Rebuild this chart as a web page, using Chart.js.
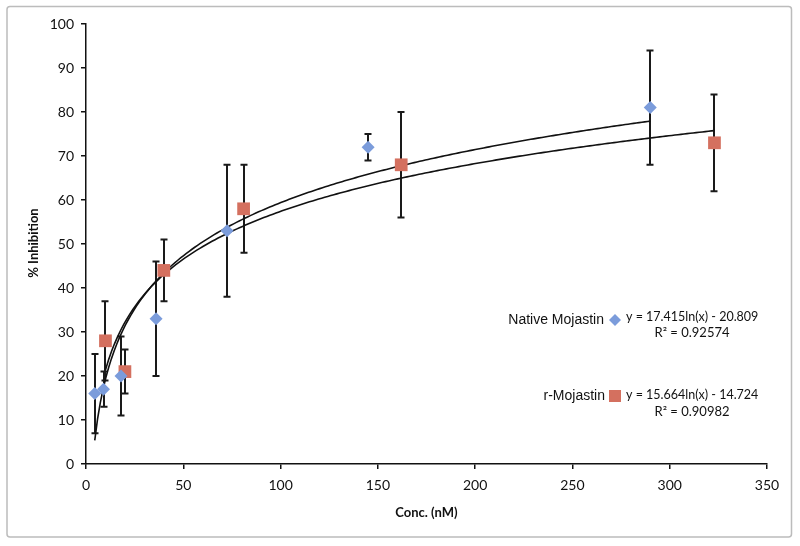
<!DOCTYPE html>
<html>
<head>
<meta charset="utf-8">
<script src="https://cdn.jsdelivr.net/npm/chart.js@4/dist/chart.umd.min.js"></script>
<style>
  html, body { margin: 0; padding: 0; background: #fff; }
  #wrap { width: 800px; height: 546px; position: relative; }
</style>
</head>
<body>
<div id="wrap"><canvas id="c" width="800" height="546"></canvas></div>
<script>
// ---- Data ----
const nativeConc   = [4.5, 9, 18, 36, 72.5, 145, 290];
const nativeInhib  = [16, 17, 20, 33, 53, 72, 81];
const nativeErr    = [9, 4, 9, 13, 15, 3, 13];

const rConc        = [10, 20, 40, 81, 162, 323];
const rInhib       = [28, 21, 44, 58, 68, 73];
const rErr         = [9, 5, 7, 10, 12, 11];

// logarithmic trendline coefficients shown on the chart: y = a*ln(x) + b
const nativeFit    = [17.415, -20.809];
const rFit         = [15.664, -14.724];
const nativeLabel  = "Native Mojastin";
const rLabel       = "r-Mojastin";
const nativeEq     = ["y = 17.415ln(x) - 20.809", "R² = 0.92574"];
const rEq          = ["y = 15.664ln(x) - 14.724", "R² = 0.90982"];

const xTitle = "Conc. (nM)";
const yTitle = "% Inhibition";

const BLUE = "#7b9cdb";
const RED  = "#d4705f";

function toPoints(xs, ys) { return xs.map((x, i) => ({ x: x, y: ys[i] })); }
function fitCurve(coef, xs) {
  const lo = Math.min.apply(null, xs), hi = Math.max.apply(null, xs);
  const pts = [];
  const n = 200;
  for (let i = 0; i <= n; i++) {
    const x = lo + (hi - lo) * i / n;
    pts.push({ x: x, y: coef[0] * Math.log(x) + coef[1] });
  }
  return pts;
}

const errorBarPlugin = {
  id: 'errorBars',
  beforeDatasetsDraw(chart) {
    const ctx = chart.ctx;
    const xs = chart.scales.x, ys = chart.scales.y;
    const sets = [[nativeConc, nativeInhib, nativeErr], [rConc, rInhib, rErr]];
    ctx.save();
    ctx.strokeStyle = "#1a1a1a";
    ctx.lineWidth = 2;
    sets.forEach(s => {
      s[0].forEach((x, i) => {
        const px = Math.round(xs.getPixelForValue(x));
        const top = ys.getPixelForValue(s[1][i] + s[2][i]);
        const bot = ys.getPixelForValue(s[1][i] - s[2][i]);
        ctx.beginPath();
        ctx.moveTo(px, top); ctx.lineTo(px, bot);
        ctx.moveTo(px - 3.5, top); ctx.lineTo(px + 3.5, top);
        ctx.moveTo(px - 3.5, bot); ctx.lineTo(px + 3.5, bot);
        ctx.stroke();
      });
    });
    ctx.restore();
  }
};

const decorPlugin = {
  id: 'decor',
  beforeDraw(chart) {
    const ctx = chart.ctx;
    ctx.save();
    ctx.fillStyle = "#fff";
    ctx.fillRect(0, 0, chart.width, chart.height);
    ctx.strokeStyle = "#bcbcbc";
    ctx.lineWidth = 1.5;
    ctx.beginPath();
    if (ctx.roundRect) ctx.roundRect(7, 6.5, 784.5, 530.5, 3); else ctx.rect(7, 6.5, 784.5, 530.5);
    ctx.stroke();
    ctx.restore();
  },
  afterDraw(chart) {
    const ctx = chart.ctx;
    ctx.save();
    ctx.fillStyle = "#111";
    ctx.font = "bold 13px Lato, 'Open Sans', sans-serif";
    ctx.textAlign = "center";
    ctx.textBaseline = "middle";
    const ca = chart.chartArea;
    ctx.fillText(xTitle, (ca.left + ca.right) / 2, 513);
    ctx.save();
    ctx.translate(34, 243);
    ctx.rotate(-Math.PI / 2);
    ctx.fillText(yTitle, 0, 0);
    ctx.restore();

    ctx.textBaseline = "middle";
    ctx.font = "14px 'Liberation Sans', Arial, sans-serif";
    ctx.textAlign = "right";
    ctx.fillStyle = "#111";
    ctx.fillText(nativeLabel, 604, 320);
    ctx.fillText(rLabel, 605, 396);

    ctx.fillStyle = BLUE;
    ctx.beginPath();
    ctx.moveTo(615, 314); ctx.lineTo(621, 320); ctx.lineTo(615, 326); ctx.lineTo(609, 320);
    ctx.closePath(); ctx.fill();
    ctx.fillStyle = RED;
    ctx.fillRect(609, 390, 12, 12);

    ctx.fillStyle = "#111";
    ctx.font = "12.5px Lato, 'Open Sans', sans-serif";
    ctx.textAlign = "left";
    ctx.fillText(nativeEq[0], 626, 317);
    ctx.fillText(rEq[0], 626, 395);
    ctx.font = "13px Lato, 'Open Sans', sans-serif";
    ctx.textAlign = "center";
    ctx.fillText(nativeEq[1], 692, 333);
    ctx.fillText(rEq[1], 692, 412);
    ctx.restore();
  }
};

new Chart(document.getElementById('c'), {
  type: 'scatter',
  data: {
    datasets: [
      { label: 'Native fit', type: 'line', data: fitCurve(nativeFit, nativeConc), borderColor: '#111', borderWidth: 1.6, pointRadius: 0, fill: false, tension: 0, order: 3 },
      { label: 'r fit', type: 'line', data: fitCurve(rFit, rConc), borderColor: '#111', borderWidth: 1.6, pointRadius: 0, fill: false, tension: 0, order: 3 },
      { label: nativeLabel, data: toPoints(nativeConc, nativeInhib), pointStyle: 'rectRot', pointRadius: 6.5, pointHoverRadius: 6.5, backgroundColor: BLUE, borderColor: BLUE, borderWidth: 0, order: 1 },
      { label: rLabel, data: toPoints(rConc, rInhib), pointStyle: 'rect', pointRadius: 9, pointHoverRadius: 9, backgroundColor: RED, borderColor: RED, borderWidth: 0, order: 1 }
    ]
  },
  options: {
    responsive: false,
    animation: false,
    events: [],
    layout: { padding: { left: 0, top: 24, right: 33, bottom: 0 } },
    plugins: { legend: { display: false }, tooltip: { enabled: false } },
    scales: {
      x: {
        type: 'linear', min: 0, max: 350,
        afterFit(s) { s.height = 82; },
        ticks: { stepSize: 50, color: '#111', font: { family: "Lato, 'Open Sans', sans-serif", size: 14 }, padding: 8, maxRotation: 0 },
        grid: { display: true, drawOnChartArea: false, tickLength: 5, color: '#111', lineWidth: 1.5 },
        border: { display: true, color: '#111', width: 1.5 }
      },
      y: {
        type: 'linear', min: 0, max: 100,
        afterFit(s) { s.width = 86; },
        ticks: { stepSize: 10, color: '#111', font: { family: "Lato, 'Open Sans', sans-serif", size: 14 }, padding: 7 },
        grid: { display: true, drawOnChartArea: false, tickLength: 5, color: '#111', lineWidth: 1.5 },
        border: { display: true, color: '#111', width: 1.5 }
      }
    }
  },
  plugins: [decorPlugin, errorBarPlugin]
});
</script>
</body>
</html>
